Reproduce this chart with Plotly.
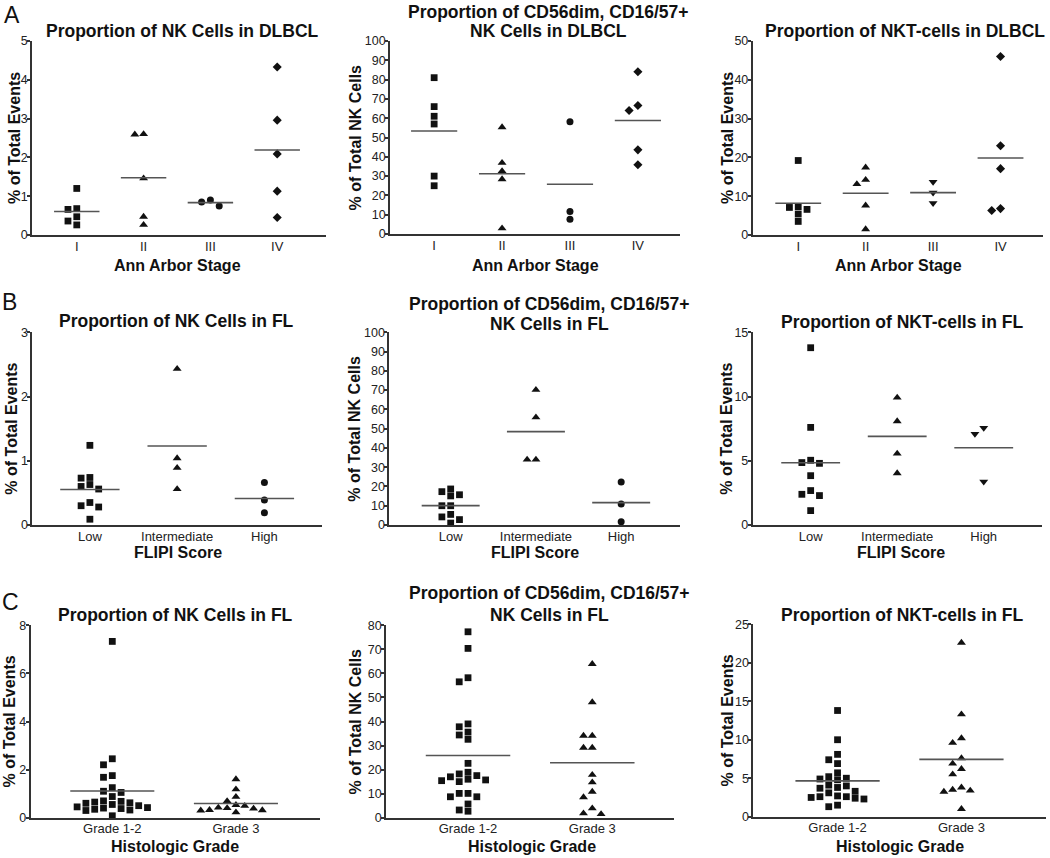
import plotly.graph_objects as go

# ---------------- data ----------------
stage_cats = ["I", "II", "III", "IV"]
flipi_cats = ["Low", "Intermediate", "High"]
grade_cats = ["Grade 1-2", "Grade 3"]

# A: DLBCL by Ann Arbor stage
nk_dlbcl = [
    [1.20, 0.68, 0.66, 0.47, 0.36, 0.26],
    [2.59, 2.60, 1.46, 0.47, 0.26],
    [0.90, 0.75, 0.85],
    [4.33, 2.96, 2.09, 1.13, 0.45],
]
cd56_dlbcl = [
    [81.0, 66.0, 61.0, 57.0, 30.0, 25.0],
    [55.3, 36.9, 32.6, 28.4, 2.9],
    [58.1, 7.6, 11.6],
    [84.1, 64.0, 66.6, 43.6, 35.9],
]
nkt_dlbcl = [
    [19.2, 7.1, 6.6, 7.3, 5.4, 3.5],
    [17.4, 13.1, 14.2, 7.6, 1.5],
    [13.7, 10.9, 8.2],
    [46.0, 23.0, 17.1, 6.3, 6.8],
]

# B: FL by FLIPI score
nk_fl_flipi = [
    [1.24, 0.74, 0.73, 0.63, 0.56, 0.60, 0.30, 0.28, 0.35, 0.09],
    [2.43, 1.04, 0.89, 0.56],
    [0.66, 0.39, 0.19],
]
cd56_fl_flipi = [
    [17.3, 15.1, 15.7, 18.7, 10.0, 10.0, 4.2, 2.8, 5.5, 1.0],
    [70.1, 55.9, 33.9, 33.9],
    [22.3, 10.9, 1.7],
]
nkt_fl_flipi = [
    [13.8, 7.6, 4.86, 4.8, 5.04, 3.84, 2.39, 2.29, 2.68, 1.12],
    [9.92, 8.08, 5.56, 4.03],
    [7.56, 7.09, 3.38],
]

# C: FL by histologic grade
nk_fl_grade = [
    [7.33, 2.45, 2.2, 1.75, 1.68, 1.25, 1.1, 1.05, 0.88, 0.7, 0.68, 0.65,
     0.62, 0.6, 0.55, 0.5, 0.45, 0.42, 0.4, 0.38, 0.35, 0.32, 0.3, 0.08],
    [1.6, 1.18, 0.87, 0.69, 0.53, 0.42, 0.38, 0.32, 0.22, 0.3, 0.31, 0.4, 0.49],
]
cd56_fl_grade = [
    [77.3, 70.4, 58.2, 56.5, 39.0, 37.8, 35.6, 34.4, 32.6, 22.6, 18.9, 18.2,
     17.0, 15.4, 15.0, 15.7, 16.0, 17.5, 10.1, 8.7, 8.7, 10.1, 5.7, 2.7, 3.2],
    [63.9, 48.0, 34.1, 34.1, 29.1, 29.1, 17.8, 14.7, 10.8, 8.5, 3.9, 1.5, 1.8],
]
nkt_fl_grade = [
    [13.8, 10.0, 8.1, 7.4, 6.9, 5.7, 5.2, 5.0, 4.9, 4.8, 4.1, 4.0, 3.8, 3.7,
     3.3, 3.1, 2.7, 2.6, 2.6, 2.5, 2.4, 2.3, 1.5, 1.3],
    [22.6, 13.3, 9.6, 10.2, 7.6, 6.9, 6.2, 5.5, 3.8, 3.4, 3.25, 3.5, 1.0],
]

titles = [
    ["Proportion of NK Cells in DLBCL"],
    ["Proportion of CD56dim, CD16/57+", "NK Cells in DLBCL"],
    ["Proportion of NKT-cells in DLBCL"],
    ["Proportion of NK Cells in FL"],
    ["Proportion of CD56dim, CD16/57+", "NK Cells in FL"],
    ["Proportion of NKT-cells in FL"],
    ["Proportion of NK Cells in FL"],
    ["Proportion of CD56dim, CD16/57+", "NK Cells in FL"],
    ["Proportion of NKT-cells in FL"],
]
y_titles = ["% of Total Events", "% of Total NK Cells", "% of Total Events"] * 3
x_titles = ["Ann Arbor Stage"] * 3 + ["FLIPI Score"] * 3 + ["Histologic Grade"] * 3
panel_letters = ["A", "B", "C"]

# ---------------- layout / style (pixels) ----------------
W, H = 1050, 858
FONT = "Liberation Sans, Arial, Helvetica, sans-serif"
INK = "#111111"
AXC = "#333333"
MEANC = "#555555"

panels = [
    dict(data=nk_dlbcl, cats=stage_cats, sym=["square", "triangle-up", "circle", "diamond"],
         dx=(32, 326), dy=(41, 235), xr=(-0.67, 3.73), ytop=5, dtick=1,
         tx=182, ty=[30.5], ytx=14, xtx=177, xty=265),
    dict(data=cd56_dlbcl, cats=stage_cats, sym=["square", "triangle-up", "circle", "diamond"],
         dx=(390, 680), dy=(41, 234), xr=(-0.65, 3.62), ytop=100, dtick=10,
         tx=548, ty=[12.5, 30.5], ytx=355, xtx=535, xty=265),
    dict(data=nkt_dlbcl, cats=stage_cats, sym=["square", "triangle-up", "triangle-down", "diamond"],
         dx=(752.7, 1043), dy=(41, 235), xr=(-0.675, 3.63), ytop=50, dtick=10,
         tx=905, ty=[30.5], ytx=727, xtx=898, xty=265),
    dict(data=nk_fl_flipi, cats=flipi_cats, sym=["square", "triangle-up", "circle"],
         dx=(32.3, 322), dy=(332.3, 525), xr=(-0.66, 2.66), ytop=3, dtick=1,
         tx=176, ty=[321.5], ytx=12, xtx=177.5, xty=552),
    dict(data=cd56_fl_flipi, cats=flipi_cats, sym=["square", "triangle-up", "circle"],
         dx=(389.3, 680), dy=(332.3, 525), xr=(-0.72, 2.69), ytop=100, dtick=10,
         tx=549, ty=[303.5, 323.5], ytx=355, xtx=535, xty=552),
    dict(data=nkt_fl_flipi, cats=flipi_cats, sym=["square", "triangle-up", "triangle-down"],
         dx=(752.7, 1041.7), dy=(332.3, 525), xr=(-0.67, 2.67), ytop=15, dtick=5,
         tx=902, ty=[322], ytx=727, xtx=901, xty=552),
    dict(data=nk_fl_grade, cats=grade_cats, sym=["square", "triangle-up"],
         dx=(30.7, 320), dy=(625.3, 817.7), xr=(-0.66, 1.68), ytop=8, dtick=2,
         tx=175, ty=[614.5], ytx=9, xtx=175, xty=846),
    dict(data=cd56_fl_grade, cats=grade_cats, sym=["square", "triangle-up"],
         dx=(386, 674.3), dy=(625.3, 817.7), xr=(-0.66, 1.66), ytop=80, dtick=10,
         tx=549, ty=[593, 614.5], ytx=355, xtx=531.5, xty=846),
    dict(data=nkt_fl_grade, cats=grade_cats, sym=["square", "triangle-up"],
         dx=(753.3, 1045.7), dy=(624.3, 816.7), xr=(-0.68, 1.68), ytop=25, dtick=5,
         tx=902, ty=[614.5], ytx=727, xtx=900, xty=846),
]
letter_pos = [(12, 14.5), (9.5, 302), (10, 602)]

SYM_SIZE = {"square": 6.8, "triangle-up": 7.8, "triangle-down": 7.8,
            "circle": 7, "diamond": 7}
STEP_PX = 8.8      # horizontal spacing between swarm columns
COLLIDE_PX = 6.8   # vertical distance below which points collide
HALF_W = 0.34      # half width of mean line (category units)


def swarm_offsets(values, px_per_unit):
    """Simple beeswarm: column index for each value, placed by descending value."""
    order = sorted(range(len(values)), key=lambda i: -values[i])
    placed = []
    cols = [0] * len(values)
    cands = [0]
    for k in range(1, 12):
        cands += [-k, k]
    for i in order:
        ypx = values[i] * px_per_unit
        for c in cands:
            if all(not (pc == c and abs(py - ypx) < COLLIDE_PX) for pc, py in placed):
                break
        placed.append((c, ypx))
        cols[i] = c
    return cols


fig = go.Figure()
annotations = []

for k, p in enumerate(panels, start=1):
    xa = "x" if k == 1 else f"x{k}"
    ya = "y" if k == 1 else f"y{k}"
    x0, x1 = p["dx"]
    y0, y1 = p["dy"]
    px_per_unit = (y1 - y0) / p["ytop"]
    px_per_cat = (x1 - x0) / (p["xr"][1] - p["xr"][0])

    for g, vals in enumerate(p["data"]):
        cols = swarm_offsets(vals, px_per_unit)
        xs = [g + c * STEP_PX / px_per_cat for c in cols]
        sym = p["sym"][g]
        fig.add_trace(go.Scatter(
            x=xs, y=vals, mode="markers", xaxis=xa, yaxis=ya,
            marker=dict(symbol=sym, size=SYM_SIZE[sym], color=INK, line=dict(width=0)),
            cliponaxis=False, showlegend=False, hoverinfo="y"))
        mean = sum(vals) / len(vals)
        fig.add_trace(go.Scatter(
            x=[g - HALF_W, g + HALF_W], y=[mean, mean], mode="lines",
            xaxis=xa, yaxis=ya, line=dict(color=MEANC, width=1.6),
            showlegend=False, hoverinfo="skip"))

    xkey = "xaxis" if k == 1 else f"xaxis{k}"
    ykey = "yaxis" if k == 1 else f"yaxis{k}"
    fig.layout[xkey] = dict(
        domain=[x0 / W, x1 / W], range=list(p["xr"]), anchor=ya,
        showline=True, linecolor=AXC, linewidth=1.8, ticks="",
        ticklabelstandoff=-2,
        tickvals=list(range(len(p["cats"]))), ticktext=p["cats"],
        tickfont=dict(family=FONT, size=13, color="#222222"),
        showgrid=False, zeroline=False, fixedrange=True, automargin=False)
    fig.layout[ykey] = dict(
        domain=[1 - y1 / H, 1 - y0 / H], range=[0, p["ytop"]], anchor=xa,
        showline=True, linecolor=AXC, linewidth=1.8, ticks="outside",
        ticklen=3, tickwidth=1.5, tickcolor=AXC, dtick=p["dtick"], tick0=0,
        ticklabelstandoff=-3,
        tickfont=dict(family=FONT, size=12.5, color="#222222"),
        showgrid=False, zeroline=False, fixedrange=True, automargin=False)

    t = titles[k - 1]
    for line, ty in zip(t, p["ty"]):
        annotations.append(dict(
            text=f"<b>{line}</b>", x=p["tx"] / W, y=1 - ty / H, xref="paper", yref="paper",
            xanchor="center", yanchor="middle", showarrow=False,
            font=dict(family=FONT, size=17.5, color=INK)))
    annotations.append(dict(
        text=f"<b>{y_titles[k - 1]}</b>", x=p["ytx"] / W, y=1 - ((y0 + y1) / 2) / H,
        xref="paper", yref="paper", xanchor="center", yanchor="middle",
        textangle=-90, showarrow=False, font=dict(family=FONT, size=16, color=INK)))
    annotations.append(dict(
        text=f"<b>{x_titles[k - 1]}</b>", x=p["xtx"] / W, y=1 - p["xty"] / H,
        xref="paper", yref="paper", xanchor="center", yanchor="middle",
        showarrow=False, font=dict(family=FONT, size=16, color=INK)))

for letter, (lx, ly) in zip(panel_letters, letter_pos):
    annotations.append(dict(
        text=letter, x=lx / W, y=1 - ly / H, xref="paper", yref="paper",
        xanchor="center", yanchor="middle", showarrow=False,
        font=dict(family=FONT, size=23, color=INK)))

fig.update_layout(
    width=W, height=H, margin=dict(l=0, r=0, t=0, b=0),
    paper_bgcolor="white", plot_bgcolor="white",
    annotations=annotations, showlegend=False)

# remove the default page margin so the 1050x858 figure fills the window exactly
page_fix = (
    "document.body.style.margin='0';"
    "document.body.style.padding='0';"
    "document.documentElement.style.overflow='hidden';"
    "document.body.style.overflow='hidden';"
    "var gd=document.getElementById('{plot_id}');"
    "Plotly.relayout(gd,{width:%d,height:%d});" % (W, H)
)
fig.write_html("out.html", post_script=page_fix,
               config={"responsive": False, "displayModeBar": False})
